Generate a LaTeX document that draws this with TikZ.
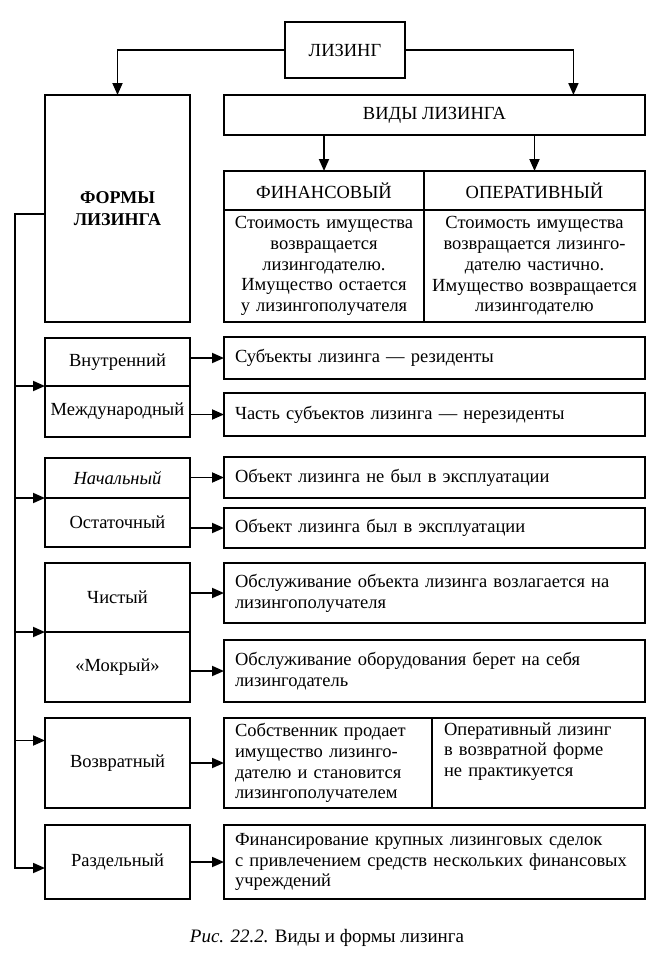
\documentclass[tikz,border=0pt]{standalone}
\usepackage{fontspec}
\setmainfont{Liberation Serif}
\usetikzlibrary{arrows.meta,positioning,calc}

\begin{document}
\begin{tikzpicture}[x=1pt,y=-1pt,node distance=0pt,
  box/.style={draw,line width=1.8pt,outer sep=0pt,inner sep=2pt,align=center,font=\fontsize{18.5}{20.8}\selectfont},
  lbox/.style={box,minimum width=145pt},
  rbox/.style={box,text width=399pt,inner xsep=11pt,inner ysep=3pt,align=left},
  arr/.style={-{Triangle[length=12pt,width=10pt]},line width=1.8pt}]
\useasboundingbox (0,0) rectangle (668,969);
% top
\node[box,minimum width=120pt,minimum height=56pt] (lizing) at (345,50) {ЛИЗИНГ};
\node[box,anchor=north west,minimum width=145pt,minimum height=227pt,font=\fontsize{18}{22}\selectfont\bfseries] (formy) at (45,95) {ФОРМЫ\\ЛИЗИНГА};
\node[box,anchor=north west,minimum width=421pt,minimum height=40pt] (vidy) at (224,95) {ВИДЫ ЛИЗИНГА};
% table of kinds
\node[box,anchor=north west,minimum width=200pt,minimum height=39pt] (finh) at (224,171) {ФИНАНСОВЫЙ};
\node[box,right=of finh,minimum width=221pt,minimum height=39pt] (operh) {ОПЕРАТИВНЫЙ};
\node[box,below=of finh,minimum width=200pt,minimum height=112pt,text width=196pt] (finb) {Стоимость имущества\\возвращается\\лизингодателю.\\Имущество остается\\у лизингополучателя};
\node[box,below=of operh,minimum width=221pt,minimum height=112pt,text width=217pt] (operb) {Стоимость имущества\\возвращается лизинго-\\дателю частично.\\Имущество возвращается\\лизингодателю};
% forms
\node[lbox,anchor=north west,minimum height=48pt] (vnutr) at (45,338) {Внутренний};
\node[lbox,below=of vnutr,minimum height=51pt] (mezhd) {Международный};
\node[lbox,anchor=north west,minimum height=40pt] (nach) at (45,458) {\itshape Начальный};
\node[lbox,below=of nach,minimum height=49pt] (ostat) {Остаточный};
\node[lbox,anchor=north west,minimum height=69pt] (chist) at (45,563) {Чистый};
\node[lbox,below=of chist,minimum height=70pt] (mokr) {«Мокрый»};
\node[lbox,anchor=north west,minimum height=90pt] (vozvr) at (45,718) {Возвратный};
\node[lbox,anchor=north west,minimum height=74pt] (razd) at (45,825) {Раздельный};
% descriptions
\node[rbox,anchor=north west,minimum height=42pt] (r1) at (224,337) {Субъекты лизинга — резиденты};
\node[rbox,anchor=north west,minimum height=43pt] (r2) at (224,393) {Часть субъектов лизинга — нерезиденты};
\node[rbox,anchor=north west,minimum height=41pt] (r3) at (224,457) {Объект лизинга не был в эксплуатации};
\node[rbox,anchor=north west,minimum height=40pt] (r4) at (224,508) {Объект лизинга был в эксплуатации};
\node[rbox,anchor=north west,minimum height=60pt] (r5) at (224,563) {Обслуживание объекта лизинга возлагается на\\лизингополучателя};
\node[rbox,anchor=north west,minimum height=62pt] (r6) at (224,640) {Обслуживание оборудования берет на себя\\лизингодатель};
\node[rbox,anchor=north west,minimum height=90pt,text width=186pt] (r7a) at (224,718) {Собственник продает\\имущество лизинго-\\дателю и становится\\лизингополучателем};
\node[rbox,right=of r7a,minimum height=90pt,text width=189pt,inner xsep=12pt] (r7b) {Оперативный лизинг\\в возвратной форме\\не практикуется\\\strut};
\node[rbox,anchor=north west,minimum height=74pt] (r8) at (224,825) {Финансирование крупных лизинговых сделок\\с привлечением средств нескольких финансовых\\учреждений};
\node[font=\fontsize{19}{22}\selectfont] (cap) at (327,938) {\textit{Рис. 22.2.} Виды и формы лизинга};
% connectors
\coordinate (bustop) at (15,214);
\coordinate (busbot) at (15,868);
\coordinate (vidyin) at ($(vidy.north west)!0.83!(vidy.north east)$);
\coordinate (vozvrin) at ($(vozvr.north west)!0.25!(vozvr.south west)$);
\draw[arr] (lizing.west) -| (formy.north);
\draw[arr] (lizing.east) -| (vidyin);
\draw[arr] (vidy.south -| finh.north) -- (finh.north);
\draw[arr] (vidy.south -| operh.north) -- (operh.north);
\draw[arr] (bustop -| formy.west) -- (bustop) |- (razd.west |- busbot);
\foreach \b in {vnutr,nach,chist}
  \draw[arr] (bustop |- \b.south west) -- (\b.south west);
\draw[arr] (bustop |- vozvrin) -- (vozvrin);
\foreach \l/\r in {vnutr/r1,mezhd/r2,nach/r3,ostat/r4,chist/r5,mokr/r6,vozvr/r7a,razd/r8}
  \draw[arr] (\l.east |- \r.west) -- (\r.west);
\end{tikzpicture}
\end{document}
